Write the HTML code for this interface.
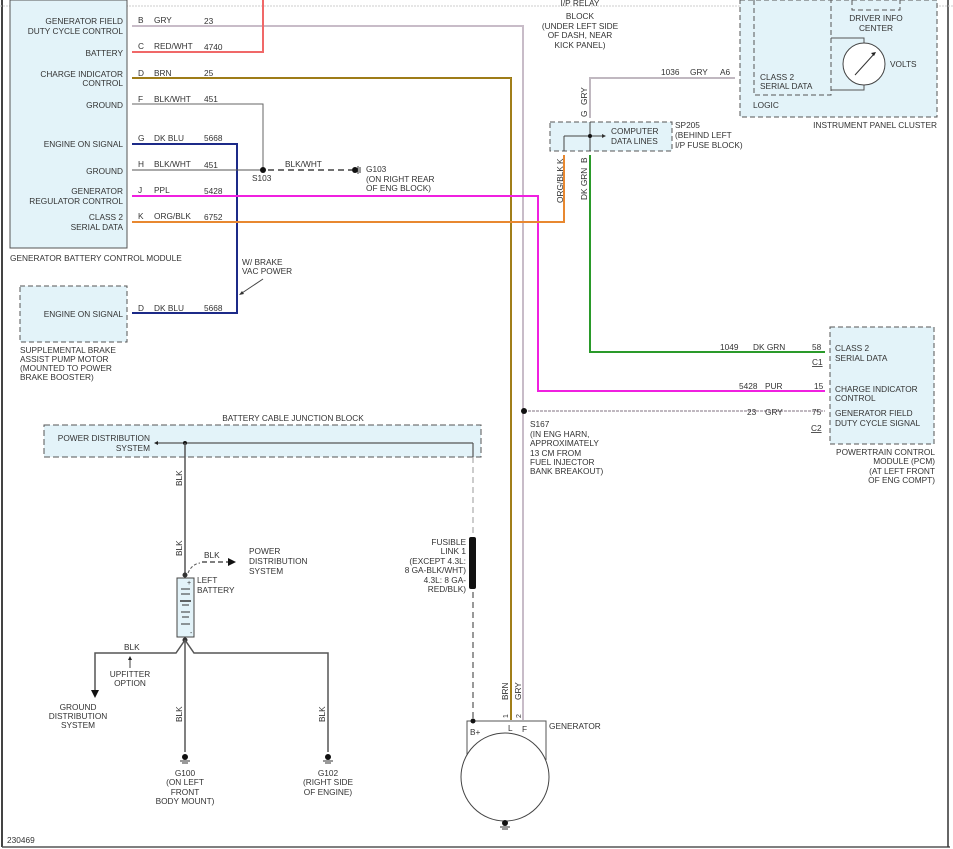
<!DOCTYPE html>
<html><head><meta charset="utf-8"><style>
html,body{margin:0;padding:0;background:#fff;}
svg{display:block;font-family:"Liberation Sans",sans-serif;font-size:8.3px;fill:#333;}
text{fill:#333;}
.r{text-anchor:end}.m{text-anchor:middle}
</style></head><body>
<svg width="953" height="849" viewBox="0 0 953 849" xmlns="http://www.w3.org/2000/svg">
<line x1="2" y1="0" x2="2" y2="847" stroke="#444" stroke-width="2"/>
<line x1="2" y1="847" x2="950" y2="847" stroke="#555" stroke-width="1.5"/>
<line x1="948" y1="0" x2="948" y2="847" stroke="#333" stroke-width="1.5"/>
<line x1="0" y1="6" x2="953" y2="6" stroke="#ccc" stroke-width="1" stroke-dasharray="2,1"/>

<rect x="10" y="0" width="117" height="248" fill="#e3f3f9" stroke="#555" stroke-width="1"/>
<text x="10" y="261">GENERATOR BATTERY CONTROL MODULE</text>
<g class="r">
<text x="123" y="24">GENERATOR FIELD</text><text x="123" y="34">DUTY CYCLE CONTROL</text>
<text x="123" y="56">BATTERY</text>
<text x="123" y="77">CHARGE INDICATOR</text><text x="123" y="86">CONTROL</text>
<text x="123" y="108">GROUND</text>
<text x="123" y="147">ENGINE ON SIGNAL</text>
<text x="123" y="174">GROUND</text>
<text x="123" y="194">GENERATOR</text><text x="123" y="204">REGULATOR CONTROL</text>
<text x="123" y="220">CLASS 2</text><text x="123" y="230">SERIAL DATA</text>
</g>
<g>
<text x="138" y="23">B</text><text x="154" y="23">GRY</text><text x="204" y="24">23</text>
<text x="138" y="49">C</text><text x="154" y="49">RED/WHT</text><text x="204" y="50">4740</text>
<text x="138" y="76">D</text><text x="154" y="76">BRN</text><text x="204" y="76">25</text>
<text x="138" y="102">F</text><text x="154" y="102">BLK/WHT</text><text x="204" y="102">451</text>
<text x="138" y="141">G</text><text x="154" y="141">DK BLU</text><text x="204" y="141">5668</text>
<text x="138" y="167">H</text><text x="154" y="167">BLK/WHT</text><text x="204" y="168">451</text>
<text x="138" y="193">J</text><text x="154" y="193">PPL</text><text x="204" y="194">5428</text>
<text x="138" y="219">K</text><text x="154" y="219">ORG/BLK</text><text x="204" y="220">6752</text>
</g>
<polyline points="132,26 523,26 523,720" fill="none" stroke="#c8bcc8" stroke-width="2"/>
<polyline points="524,411 825,411" fill="none" stroke="#c0b8c0" stroke-width="2" stroke-dasharray="3,1"/>
<polyline points="132,52 263,52 263,0" fill="none" stroke="#f06868" stroke-width="2"/>
<polyline points="132,78 511,78 511,720" fill="none" stroke="#8a6a10" stroke-width="2"/>
<polyline points="132,78 511,78 511,720" fill="none" stroke="#d8b030" stroke-width="0.6"/>
<polyline points="132,104 263,104 263,170" fill="none" stroke="#666" stroke-width="1"/>
<polyline points="132,144 237,144 237,313 132,313" fill="none" stroke="#1c2a88" stroke-width="2"/>
<polyline points="132,170 263,170" fill="none" stroke="#555" stroke-width="1"/>
<circle cx="263" cy="170" r="3" fill="#111"/>
<line x1="268" y1="170" x2="352" y2="170" stroke="#444" stroke-width="1.5" stroke-dasharray="6,4"/>
<circle cx="355" cy="170" r="3" fill="#111"/><line x1="358" y1="166" x2="358" y2="174" stroke="#333"/><line x1="360" y1="167" x2="360" y2="173" stroke="#333"/>
<text x="252" y="181">S103</text><text x="285" y="167">BLK/WHT</text>
<text x="366" y="172">G103</text><text x="366" y="182">(ON RIGHT REAR</text><text x="366" y="191">OF ENG BLOCK)</text>
<polyline points="132,196 538,196 538,391 825,391" fill="none" stroke="#f020e0" stroke-width="2"/>
<polyline points="132,222 564,222 564,155" fill="none" stroke="#e88830" stroke-width="2"/>
<polyline points="590,155 590,352 825,352" fill="none" stroke="#2a9a2a" stroke-width="2"/>
<polyline points="590,118 590,78 735,78" fill="none" stroke="#c0b8c0" stroke-width="2"/>
<circle cx="524" cy="411" r="3" fill="#111"/>

<text x="242" y="265">W/ BRAKE</text><text x="242" y="274">VAC POWER</text>
<line x1="263" y1="279" x2="242" y2="293" stroke="#444"/><path d="M239,295 l5,-1 l-2,-3z" fill="#333"/>

<rect x="20" y="286" width="107" height="56" fill="#e3f3f9" stroke="#555" stroke-dasharray="5,3"/>
<text x="123" y="317" class="r">ENGINE ON SIGNAL</text>
<text x="138" y="311">D</text><text x="154" y="311">DK BLU</text><text x="204" y="311">5668</text>
<text x="20" y="353">SUPPLEMENTAL BRAKE</text><text x="20" y="362">ASSIST PUMP MOTOR</text><text x="20" y="371">(MOUNTED TO POWER</text><text x="20" y="380">BRAKE BOOSTER)</text>

<text x="580" y="19" class="m">BLOCK</text><text x="580" y="29" class="m">(UNDER LEFT SIDE</text><text x="580" y="38" class="m">OF DASH, NEAR</text><text x="580" y="48" class="m">KICK PANEL)</text>
<text x="580" y="6" class="m">I/P RELAY</text>

<rect x="550" y="122" width="122" height="29" fill="#e3f3f9" stroke="#555" stroke-dasharray="5,3"/>
<line x1="564" y1="136" x2="590" y2="136" stroke="#444"/><line x1="590" y1="136" x2="604" y2="136" stroke="#444"/><path d="M606,136 l-4,-2 v4z" fill="#333"/>
<line x1="590" y1="122" x2="590" y2="151" stroke="#444"/><line x1="564" y1="136" x2="564" y2="151" stroke="#444"/>
<circle cx="590" cy="136" r="2" fill="#111"/>
<text x="611" y="134">COMPUTER</text><text x="611" y="144">DATA LINES</text>
<text x="675" y="128">SP205</text><text x="675" y="138">(BEHIND LEFT</text><text x="675" y="148">I/P FUSE BLOCK)</text>
<text transform="translate(587,117) rotate(-90)">G</text><text transform="translate(587,105) rotate(-90)">GRY</text>
<text transform="translate(563,164) rotate(-90)">K</text><text transform="translate(563,203) rotate(-90)">ORG/BLK</text>
<text transform="translate(587,163) rotate(-90)">B</text><text transform="translate(587,200) rotate(-90)">DK GRN</text>
<text x="661" y="75">1036</text><text x="690" y="75">GRY</text><text x="720" y="75">A6</text>

<rect x="740" y="0" width="197" height="117" fill="#e3f3f9" stroke="#555" stroke-dasharray="5,3"/>
<polyline points="754,0 754,95 831,95 831,0" fill="none" stroke="#555" stroke-dasharray="5,3"/>
<polyline points="852,0 852,10 900,10 900,0" fill="none" stroke="#555" stroke-dasharray="5,3"/>
<text x="876" y="21" class="m">DRIVER INFO</text><text x="876" y="31" class="m">CENTER</text>
<polyline points="831,38 864,38 864,44" fill="none" stroke="#555"/>
<polyline points="831,90 864,90 864,84" fill="none" stroke="#555"/>
<circle cx="864" cy="64" r="21" fill="#fff" stroke="#444"/>
<line x1="855" y1="75" x2="874" y2="54" stroke="#333"/><path d="M876,52 l-5,1 l3,3z" fill="#222"/>
<text x="890" y="67">VOLTS</text>
<text x="760" y="80">CLASS 2</text><text x="760" y="89">SERIAL DATA</text>
<text x="753" y="108">LOGIC</text>
<text x="937" y="128" class="r">INSTRUMENT PANEL CLUSTER</text>

<rect x="830" y="327" width="104" height="117" fill="#e3f3f9" stroke="#555" stroke-dasharray="5,3"/>
<text x="835" y="351">CLASS 2</text><text x="835" y="361">SERIAL DATA</text>
<text x="835" y="392">CHARGE INDICATOR</text><text x="835" y="401">CONTROL</text>
<text x="835" y="416">GENERATOR FIELD</text><text x="835" y="426">DUTY CYCLE SIGNAL</text>
<text x="720" y="350">1049</text><text x="753" y="350">DK GRN</text><text x="812" y="350">58</text>
<text x="812" y="365" text-decoration="underline">C1</text>
<text x="739" y="389">5428</text><text x="765" y="389">PUR</text><text x="814" y="389">15</text>
<text x="747" y="415">23</text><text x="765" y="415">GRY</text><text x="812" y="415">75</text>
<text x="811" y="431" text-decoration="underline">C2</text>
<text x="935" y="455" class="r">POWERTRAIN CONTROL</text><text x="935" y="464" class="r">MODULE (PCM)</text><text x="935" y="474" class="r">(AT LEFT FRONT</text><text x="935" y="483" class="r">OF ENG COMPT)</text>
<text x="530" y="427">S167</text><text x="530" y="437">(IN ENG HARN,</text><text x="530" y="446">APPROXIMATELY</text><text x="530" y="456">13 CM FROM</text><text x="530" y="465">FUEL INJECTOR</text><text x="530" y="474">BANK BREAKOUT)</text>

<text x="293" y="421" class="m">BATTERY CABLE JUNCTION BLOCK</text>
<rect x="44" y="425" width="437" height="32" fill="#e3f3f9" stroke="#555" stroke-dasharray="6,3"/>
<text x="150" y="441" class="r">POWER DISTRIBUTION</text><text x="150" y="451" class="r">SYSTEM</text>
<line x1="156" y1="443" x2="473" y2="443" stroke="#555" stroke-width="1.2"/><path d="M154,443 l4,-2 v4z" fill="#222"/>
<circle cx="185" cy="443" r="2" fill="#111"/>
<line x1="473" y1="443" x2="473" y2="457" stroke="#555" stroke-width="1.2"/>
<line x1="473" y1="457" x2="473" y2="535" stroke="#999" stroke-dasharray="6,4"/>
<rect x="469" y="537" width="7" height="52" rx="2" fill="#111"/>
<line x1="473" y1="592" x2="473" y2="720" stroke="#333" stroke-dasharray="6,4"/>
<g class="r"><text x="466" y="545">FUSIBLE</text><text x="466" y="554">LINK 1</text><text x="466" y="564">(EXCEPT 4.3L:</text><text x="466" y="573">8 GA-BLK/WHT)</text><text x="466" y="583">4.3L: 8 GA-</text><text x="466" y="592">RED/BLK)</text></g>

<line x1="185" y1="443" x2="185" y2="578" stroke="#555" stroke-width="1.5"/>
<text transform="translate(182,486) rotate(-90)">BLK</text>
<text transform="translate(182,556) rotate(-90)">BLK</text>
<circle cx="185" cy="575" r="2.5" fill="#333"/>
<path d="M188,573 Q192,564 200,563" fill="none" stroke="#555" stroke-dasharray="3,2"/>
<line x1="202" y1="562" x2="228" y2="562" stroke="#555" stroke-dasharray="5,3" stroke-width="1.5"/><path d="M236,562 l-8,-4 v8z" fill="#111"/>
<text x="204" y="558">BLK</text>
<text x="249" y="554">POWER</text><text x="249" y="564">DISTRIBUTION</text><text x="249" y="574">SYSTEM</text>
<rect x="177" y="578" width="17" height="59" fill="#e3f3f9" stroke="#444"/>
<g stroke="#333"><line x1="181" y1="589" x2="190" y2="589"/><line x1="181" y1="594" x2="190" y2="594"/><line x1="180" y1="601" x2="191" y2="601" stroke-width="1.5"/><line x1="182" y1="605" x2="189" y2="605"/><line x1="181" y1="612" x2="190" y2="612"/><line x1="182" y1="617" x2="189" y2="617"/><line x1="181" y1="624" x2="190" y2="624"/></g>
<text x="187" y="585" font-size="7">+</text><text x="190" y="635" font-size="7">-</text>
<text x="197" y="583">LEFT</text><text x="197" y="593">BATTERY</text>
<circle cx="185" cy="640" r="2.5" fill="#333"/>
<polyline points="185,640 176,653 95,653 95,690" fill="none" stroke="#555" stroke-width="1.5"/>
<path d="M91,690 h8 l-4,8z" fill="#111"/>
<polyline points="185,640 194,653 328,653 328,752" fill="none" stroke="#555" stroke-width="1.5"/>
<line x1="185" y1="640" x2="185" y2="752" stroke="#555" stroke-width="1.5"/>
<text x="124" y="650">BLK</text>
<line x1="130" y1="668" x2="130" y2="658" stroke="#444"/><path d="M130,656 l-2,4 h4z" fill="#222"/>
<text x="130" y="677" class="m">UPFITTER</text><text x="130" y="686" class="m">OPTION</text>
<text x="78" y="710" class="m">GROUND</text><text x="78" y="719" class="m">DISTRIBUTION</text><text x="78" y="728" class="m">SYSTEM</text>
<text transform="translate(182,722) rotate(-90)">BLK</text>
<text transform="translate(325,722) rotate(-90)">BLK</text>
<g><circle cx="185" cy="757" r="3" fill="#111"/><line x1="180" y1="761" x2="190" y2="761" stroke="#333"/><line x1="182" y1="763" x2="188" y2="763" stroke="#333"/></g>
<g><circle cx="328" cy="757" r="3" fill="#111"/><line x1="323" y1="761" x2="333" y2="761" stroke="#333"/><line x1="325" y1="763" x2="331" y2="763" stroke="#333"/></g>
<text x="185" y="776" class="m">G100</text><text x="185" y="785" class="m">(ON LEFT</text><text x="185" y="795" class="m">FRONT</text><text x="185" y="804" class="m">BODY MOUNT)</text>
<text x="328" y="776" class="m">G102</text><text x="328" y="785" class="m">(RIGHT SIDE</text><text x="328" y="795" class="m">OF ENGINE)</text>

<polyline points="467,760 467,721 546,721 546,760" fill="none" stroke="#555"/>
<circle cx="473" cy="721" r="2.5" fill="#111"/>
<ellipse cx="505" cy="777" rx="44" ry="44" fill="#fff" stroke="#444"/>
<circle cx="505" cy="823" r="3" fill="#111"/><line x1="500" y1="827" x2="510" y2="827" stroke="#333"/><line x1="502" y1="829" x2="508" y2="829" stroke="#333"/>
<text x="470" y="735">B+</text><text x="508" y="731">L</text><text x="522" y="732">F</text>
<text x="549" y="729">GENERATOR</text>
<text transform="translate(508,700) rotate(-90)">BRN</text><text transform="translate(521,700) rotate(-90)">GRY</text>
<text transform="translate(508,718) rotate(-90)" font-size="7">1</text><text transform="translate(521,718) rotate(-90)" font-size="7">2</text>
<text x="7" y="843">230469</text>
</svg>
</body></html>
